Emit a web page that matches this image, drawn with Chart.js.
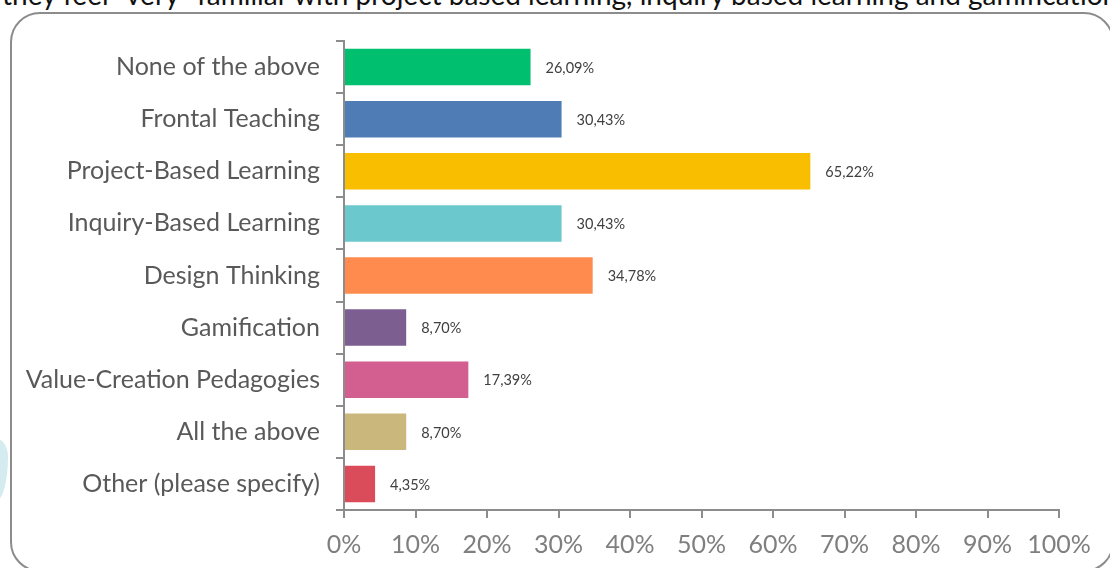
<!DOCTYPE html>
<html>
<head>
<meta charset="utf-8">
<script src="https://cdn.jsdelivr.net/npm/chart.js@4"></script>
<style>
  html, body { margin: 0; padding: 0; background: #fff; overflow: hidden; }
  #wrap { position: relative; width: 1110px; height: 568px; overflow: hidden; }
  #heading {
    position: absolute; left: 2px; top: -23px; white-space: nowrap;
    font-family: Lato, "Open Sans", sans-serif; font-size: 28px; color: #111;
  }
  #frame {
    position: absolute; left: 10px; top: 12px; width: 1104px; height: 560px;
    border: 2px solid #8c8c8c; border-radius: 30px; box-sizing: border-box;
  }
  #leaf {
    position: absolute; left: -18px; top: 438px; width: 26px; height: 64px;
    background: #d4ecef; border-radius: 50% 50% 50% 50% / 30% 30% 70% 70%;
  }
  canvas { position: absolute; left: 0; top: 0; }
</style>
</head>
<body>
<div id="wrap">
  <div id="heading">they feel "very" familiar with project based learning, inquiry based learning and gamification</div>
  <div id="leaf"></div>
  <div id="frame"></div>
  <canvas id="c" width="1110" height="568"></canvas>
</div>
<script>
const categories = [
  'None of the above',
  'Frontal Teaching',
  'Project-Based Learning',
  'Inquiry-Based Learning',
  'Design Thinking',
  'Gamification',
  'Value-Creation Pedagogies',
  'All the above',
  'Other (please specify)'
];
const shares = [26.09, 30.43, 65.22, 30.43, 34.78, 8.70, 17.39, 8.70, 4.35];
const barColors = [
  '#00bf6f', '#507cb6', '#f9be00', '#6bc8cd', '#ff8b4f',
  '#7d5e91', '#d25f90', '#c9b77c', '#db4c5a'
];
const xTicks = [0, 10, 20, 30, 40, 50, 60, 70, 80, 90, 100];

// value labels to the right of each bar, decimal comma
const valueLabels = {
  id: 'valueLabels',
  afterDatasetsDraw(chart) {
    const ctx = chart.ctx;
    const meta = chart.getDatasetMeta(0);
    ctx.save();
    ctx.font = '14.5px Lato, "Open Sans", sans-serif';
    ctx.fillStyle = '#404040';
    ctx.textAlign = 'left';
    ctx.textBaseline = 'middle';
    meta.data.forEach((bar, i) => {
      const txt = shares[i].toFixed(2).replace('.', ',') + '%';
      ctx.fillText(txt, bar.x + 15, bar.y + 1);
    });
    ctx.restore();
  }
};

new Chart(document.getElementById('c'), {
  type: 'bar',
  data: {
    labels: categories,
    datasets: [{
      data: shares,
      backgroundColor: barColors,
      borderWidth: 0,
      categoryPercentage: 1,
      barPercentage: 0.7
    }]
  },
  options: {
    indexAxis: 'y',
    responsive: false,
    animation: false,
    layout: { padding: { top: 41, right: 51, bottom: 0, left: 0 } },
    plugins: { legend: { display: false }, tooltip: { enabled: false } },
    scales: {
      x: {
        min: 0, max: 100,
        afterBuildTicks(scale) { scale.ticks = xTicks.map(v => ({ value: v })); },
        afterFit(scale) { scale.height = 58; },
        grid: { drawOnChartArea: false, drawTicks: true, tickLength: 8, color: '#8c8c8c', lineWidth: 2 },
        border: { color: '#8c8c8c', width: 2 },
        ticks: {
          padding: 12,
          color: '#7f7f7f',
          font: { family: 'Lato, "Open Sans", sans-serif', size: 25 },
          callback: v => v + '%'
        }
      },
      y: {
        offset: true,
        afterFit(scale) { scale.width = 344; },
        grid: { offset: true, drawOnChartArea: false, drawTicks: true, tickLength: 8, color: '#8c8c8c', lineWidth: 2 },
        border: { color: '#8c8c8c', width: 2 },
        ticks: {
          padding: 16,
          color: '#595959',
          font: { family: 'Lato, "Open Sans", sans-serif', size: 25 }
        }
      }
    }
  },
  plugins: [valueLabels]
});
</script>
</body>
</html>
